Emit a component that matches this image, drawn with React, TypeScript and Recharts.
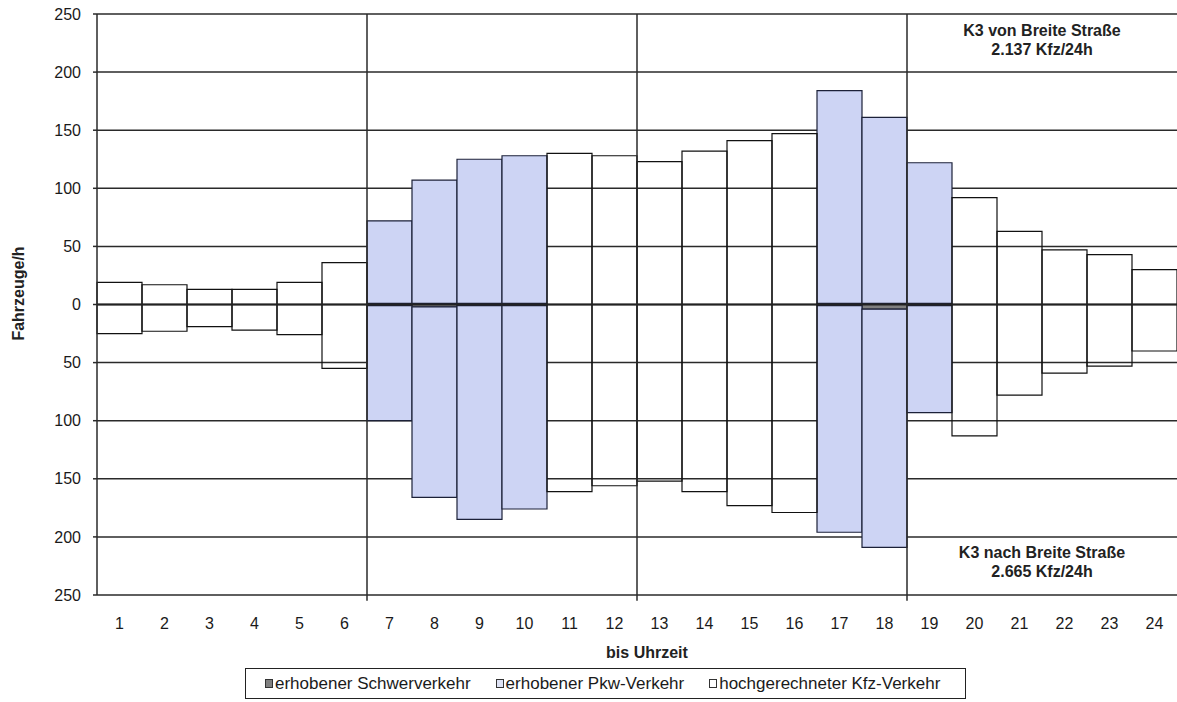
import React from 'react';
import {
  BarChart,
  Bar,
  XAxis,
  YAxis,
  CartesianGrid,
  ReferenceLine,
  ReferenceArea,
  Legend,
  Label,
} from 'recharts';

const FONT = '"Liberation Sans", Arial, Helvetica, sans-serif';

const hours = ['1','2','3','4','5','6','7','8','9','10','11','12','13','14','15','16','17','18','19','20','21','22','23','24'];

// direction "von Breite Straße" (upwards)
const schwerVon = [0,0,0,0,0,0,1,1,1,1,0,0,0,0,0,0,1,1,1,0,0,0,0,0];
const pkwVon = [0,0,0,0,0,0,71,106,124,127,0,0,0,0,0,0,183,160,121,0,0,0,0,0];
const kfzVon = [19,17,13,13,19,36,0,0,0,0,130,128,123,132,141,147,0,0,0,92,63,47,43,30];

// direction "nach Breite Straße" (downwards)
const schwerNach = [0,0,0,0,0,0,1,2,1,1,0,0,0,0,0,0,1,4,1,0,0,0,0,0];
const pkwNach = [0,0,0,0,0,0,99,164,184,175,0,0,0,0,0,0,195,205,92,0,0,0,0,0];
const kfzNach = [25,23,19,22,26,55,0,0,0,0,161,156,152,161,173,179,0,0,0,113,78,59,53,40];

const yTicks = [-250,-200,-150,-100,-50,0,50,100,150,200,250];

const legendItems = [
  { label: 'erhobener Schwerverkehr', fill: '#808080' },
  { label: 'erhobener Pkw-Verkehr', fill: '#dfe3f5' },
  { label: 'hochgerechneter Kfz-Verkehr', fill: '#ffffff' },
];

const vonText = ['K3 von Breite Straße', '2.137 Kfz/24h'];
const nachText = ['K3 nach Breite Straße', '2.665 Kfz/24h'];

const data = hours.map((h, i) => ({
  hour: h,
  schwerVon: schwerVon[i],
  pkwVon: pkwVon[i],
  kfzVon: kfzVon[i],
  schwerNach: -schwerNach[i],
  pkwNach: -pkwNach[i],
  kfzNach: -kfzNach[i],
}));

const BLUE = '#CDD4F4';
const GRID = '#2a2a2a';

const twoLine = (lines: string[]) => (props: any) => {
  const vb = props.viewBox || {};
  const cx = vb.x + vb.width / 2;
  const cy = vb.y + vb.height / 2;
  return (
    <text
      textAnchor="middle"
      fontFamily={FONT}
      fontSize={16}
      fontWeight="bold"
      fill="#222"
    >
      <tspan x={cx} y={cy - 5}>{lines[0]}</tspan>
      <tspan x={cx} y={cy + 14}>{lines[1]}</tspan>
    </text>
  );
};

const XLabel = (props: any) => {
  const vb = props.viewBox || {};
  return (
    <text
      x={vb.x + vb.width / 2 + 10}
      y={vb.y + 63}
      textAnchor="middle"
      fontFamily={FONT}
      fontSize={16}
      fontWeight="bold"
      fill="#222"
    >
      bis Uhrzeit
    </text>
  );
};

const YLabel = (props: any) => {
  const vb = props.viewBox || {};
  const x = 24;
  const y = vb.y + vb.height / 2 - 11;
  return (
    <text
      x={x}
      y={y}
      transform={`rotate(-90 ${x} ${y})`}
      textAnchor="middle"
      fontFamily={FONT}
      fontSize={16}
      fontWeight="bold"
      fill="#222"
    >
      Fahrzeuge/h
    </text>
  );
};

const LegendBox = () => (
  <div
    style={{
      width: 721,
      height: 31,
      border: '1px solid #222',
      boxSizing: 'border-box',
      display: 'flex',
      alignItems: 'center',
      paddingLeft: 19,
      fontSize: 17,
      fontFamily: FONT,
      color: '#1a1a1a',
      background: '#fff',
      whiteSpace: 'nowrap',
    }}
  >
    {legendItems.map((it, i) => (
      <span
        key={it.label}
        style={{ display: 'flex', alignItems: 'center', marginRight: i < 2 ? 25 : 0 }}
      >
        <span
          style={{
            display: 'inline-block',
            width: 6,
            height: 7,
            border: '1px solid #333',
            background: it.fill,
            marginRight: 2,
          }}
        />
        {it.label}
      </span>
    ))}
  </div>
);

export default function App() {
  return (
    <div
      style={{
        position: 'absolute',
        left: 0,
        top: 0,
        width: 1177,
        height: 702,
        background: '#fff',
        fontFamily: FONT,
      }}
    >
      <BarChart
        width={1177}
        height={702}
        data={data}
        margin={{ top: 14, right: 0, bottom: 0, left: 0 }}
        barCategoryGap={0}
        barGap={0}
        stackOffset="sign"
      >
        <CartesianGrid vertical={false} stroke={GRID} strokeWidth={1.5} />
        <XAxis
          dataKey="hour"
          interval={0}
          tickLine={false}
          axisLine={false}
          tickSize={0}
          tickMargin={23}
          height={107}
          tick={{ fontSize: 16, fill: '#1a1a1a', fontFamily: FONT }}
        >
          <Label content={XLabel} />
        </XAxis>
        <YAxis
          type="number"
          domain={[-250, 250]}
          ticks={yTicks}
          allowDataOverflow
          interval={0}
          width={97}
          tickSize={4}
          tickMargin={12}
          tickFormatter={(v: number) => String(Math.abs(v))}
          axisLine={{ stroke: GRID, strokeWidth: 1.5 }}
          tickLine={{ stroke: GRID, strokeWidth: 1.5 }}
          tick={{ fontSize: 16, fill: '#1a1a1a', fontFamily: FONT }}
        >
          <Label content={YLabel} />
        </YAxis>

        <Bar dataKey="schwerVon" stackId="s" fill="#808080" stroke="#1b1d2e" strokeWidth={1} isAnimationActive={false} />
        <Bar dataKey="pkwVon" stackId="s" fill={BLUE} stroke="#1c2138" strokeWidth={1.2} isAnimationActive={false} />
        <Bar dataKey="kfzVon" stackId="s" fill="none" stroke="#111" strokeWidth={1.2} isAnimationActive={false} />
        <Bar dataKey="schwerNach" stackId="s" fill="#808080" stroke="#1b1d2e" strokeWidth={1} isAnimationActive={false} />
        <Bar dataKey="pkwNach" stackId="s" fill={BLUE} stroke="#1c2138" strokeWidth={1.2} isAnimationActive={false} />
        <Bar dataKey="kfzNach" stackId="s" fill="none" stroke="#111" strokeWidth={1.2} isAnimationActive={false} />

        <ReferenceLine y={0} stroke="#222" strokeWidth={2.2} />
        {['7', '13', '19'].map((h) => (
          <ReferenceLine
            key={h}
            segment={[{ x: h, y: 250 }, { x: h, y: -255 }]}
            position="start"
            ifOverflow="visible"
            stroke={GRID}
            strokeWidth={1.5}
          />
        ))}

        <ReferenceArea
          x1="19"
          x2="24"
          y1={250}
          y2={204}
          fill="none"
          fillOpacity={0}
          stroke="none"
          label={twoLine(vonText)}
        />
        <ReferenceArea
          x1="19"
          x2="24"
          y1={-200}
          y2={-245}
          fill="none"
          fillOpacity={0}
          stroke="none"
          label={twoLine(nachText)}
        />

        <Legend
          layout="vertical"
          align="center"
          verticalAlign="middle"
          content={LegendBox}
          wrapperStyle={{ position: 'absolute', left: 245, top: 668, width: 721, height: 31 }}
        />
      </BarChart>
    </div>
  );
}
